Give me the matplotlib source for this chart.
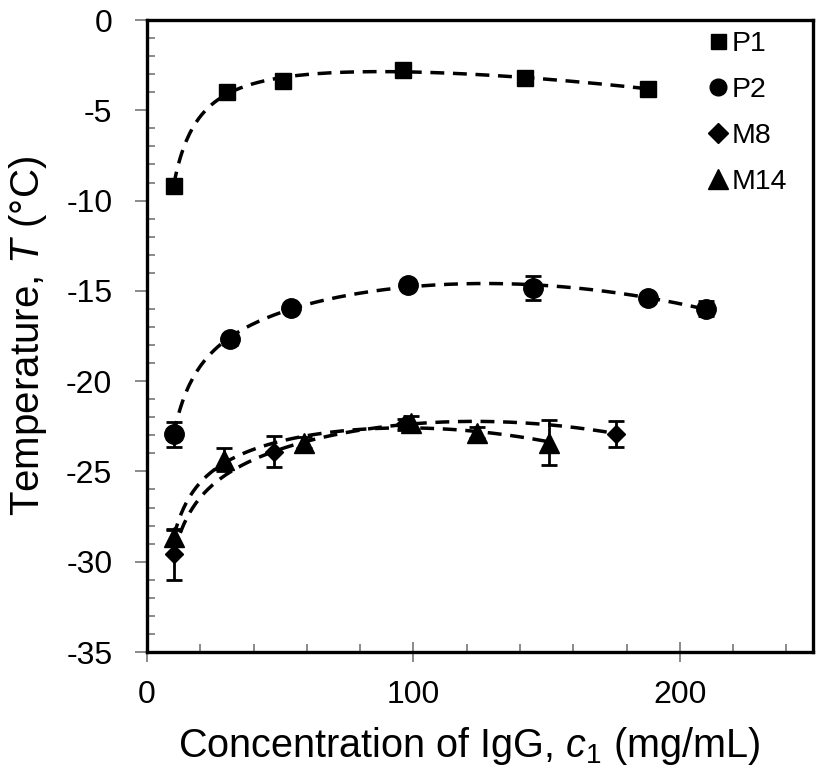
import numpy as np
import matplotlib
matplotlib.use("Agg")
import matplotlib.pyplot as plt
from matplotlib.ticker import MultipleLocator
from matplotlib.lines import Line2D

plt.rcParams['font.family'] = ['Liberation Sans', 'DejaVu Sans']
plt.rcParams['mathtext.fontset'] = 'custom'
plt.rcParams['mathtext.rm'] = 'Liberation Sans'
plt.rcParams['mathtext.it'] = 'Liberation Sans:italic'
plt.rcParams['axes.unicode_minus'] = False

# ---- data ----
p1_c = [10, 30, 51, 96, 142, 188]
p1_T = [-9.17, -3.98, -3.37, -2.76, -3.22, -3.81]
p1_err = [0.2, 0.2, 0.2, 0.2, 0.2, 0.2]

p2_c = [10, 31, 54, 98, 145, 188, 210]
p2_T = [-22.95, -17.69, -15.95, -14.65, -14.82, -15.39, -15.98]
p2_err = [0.68, 0.3, 0.2, 0.2, 0.67, 0.2, 0.4]

m8_c = [10, 47.5, 97, 176]
m8_T = [-29.6, -23.9, -22.4, -22.9]
m8_err = [1.4, 0.85, 0.3, 0.72]

m14_c = [10, 29, 59, 99, 124, 151]
m14_T = [-28.65, -24.35, -23.4, -22.3, -22.85, -23.4]
m14_err = [0.4, 0.65, 0.3, 0.35, 0.3, 1.25]

series = [
    ("P1", p1_c, p1_T, p1_err, 's', 12, 10.8),
    ("P2", p2_c, p2_T, p2_err, 'o', 14, 12),
    ("M8", m8_c, m8_T, m8_err, 'D', 9.5, 10),
    ("M14", m14_c, m14_T, m14_err, '^', 14, 14),
]


def trend(xs, ys, n=300):
    """Least-squares trend curve a + b/c + d*c + e*c^2 through the data."""
    x = np.asarray(xs, float)
    y = np.asarray(ys, float)
    A = np.column_stack([np.ones_like(x), 1 / x, x, x ** 2])
    coef, *_ = np.linalg.lstsq(A, y, rcond=None)
    xx = np.linspace(x.min(), x.max(), n)
    B = np.column_stack([np.ones_like(xx), 1 / xx, xx, xx ** 2])
    return xx, B @ coef


fig = plt.figure(figsize=(8.19, 7.74), dpi=100)
ax = fig.add_axes([147 / 819, 1 - 652 / 774, (813 - 147) / 819, (652 - 20) / 774])

handles = []
for name, c, T, e, mk, ms, lms in series:
    sx, sy = trend(c, T)
    ax.plot(sx, sy, color='black', lw=2.5, dashes=(4, 2.5), zorder=2)
    ax.errorbar(c, T, yerr=e, fmt='none', ecolor='black', elinewidth=2,
                capsize=6, capthick=2, zorder=3)
    ax.plot(c, T, linestyle='none', marker=mk, markersize=ms, color='black', zorder=4)
    handles.append(Line2D([], [], linestyle='none', marker=mk, markersize=lms,
                          color='black', label=name))

ax.set_xlim(0, 250)
ax.set_ylim(-35, 0)
ax.xaxis.set_major_locator(MultipleLocator(100))
ax.xaxis.set_minor_locator(MultipleLocator(20))
ax.yaxis.set_major_locator(MultipleLocator(5))
ax.yaxis.set_minor_locator(MultipleLocator(1))

ax.tick_params(axis='x', which='major', direction='inout', length=14, width=1.2,
               color='#777777', labelsize=23, pad=13)
ax.tick_params(axis='x', which='minor', direction='in', length=6, width=1.2, color='#777777')
ax.tick_params(axis='y', which='major', direction='out', length=9, width=1.2,
               color='#777777', labelsize=23, pad=16)
ax.tick_params(axis='y', which='minor', direction='in', length=6, width=1.2, color='#777777')

for s in ax.spines.values():
    s.set_linewidth(2.4)
    s.set_color('black')

ax.set_xlabel(r"Concentration of IgG, $\mathit{c}_1$ (mg/mL)", fontsize=28.5)
ax.set_ylabel(r"Temperature, $\mathit{T}$ (°C)", fontsize=29, labelpad=12)
ax.xaxis.set_label_coords(0.483, -0.116)

leg = ax.legend(handles=handles, loc='upper right', bbox_to_anchor=(0.9775, 1.0),
                frameon=False, fontsize=20.5, handlelength=0.6, handletextpad=0.16,
                labelspacing=0.7, borderaxespad=0.0)

fig.savefig("out.png", dpi=100)
